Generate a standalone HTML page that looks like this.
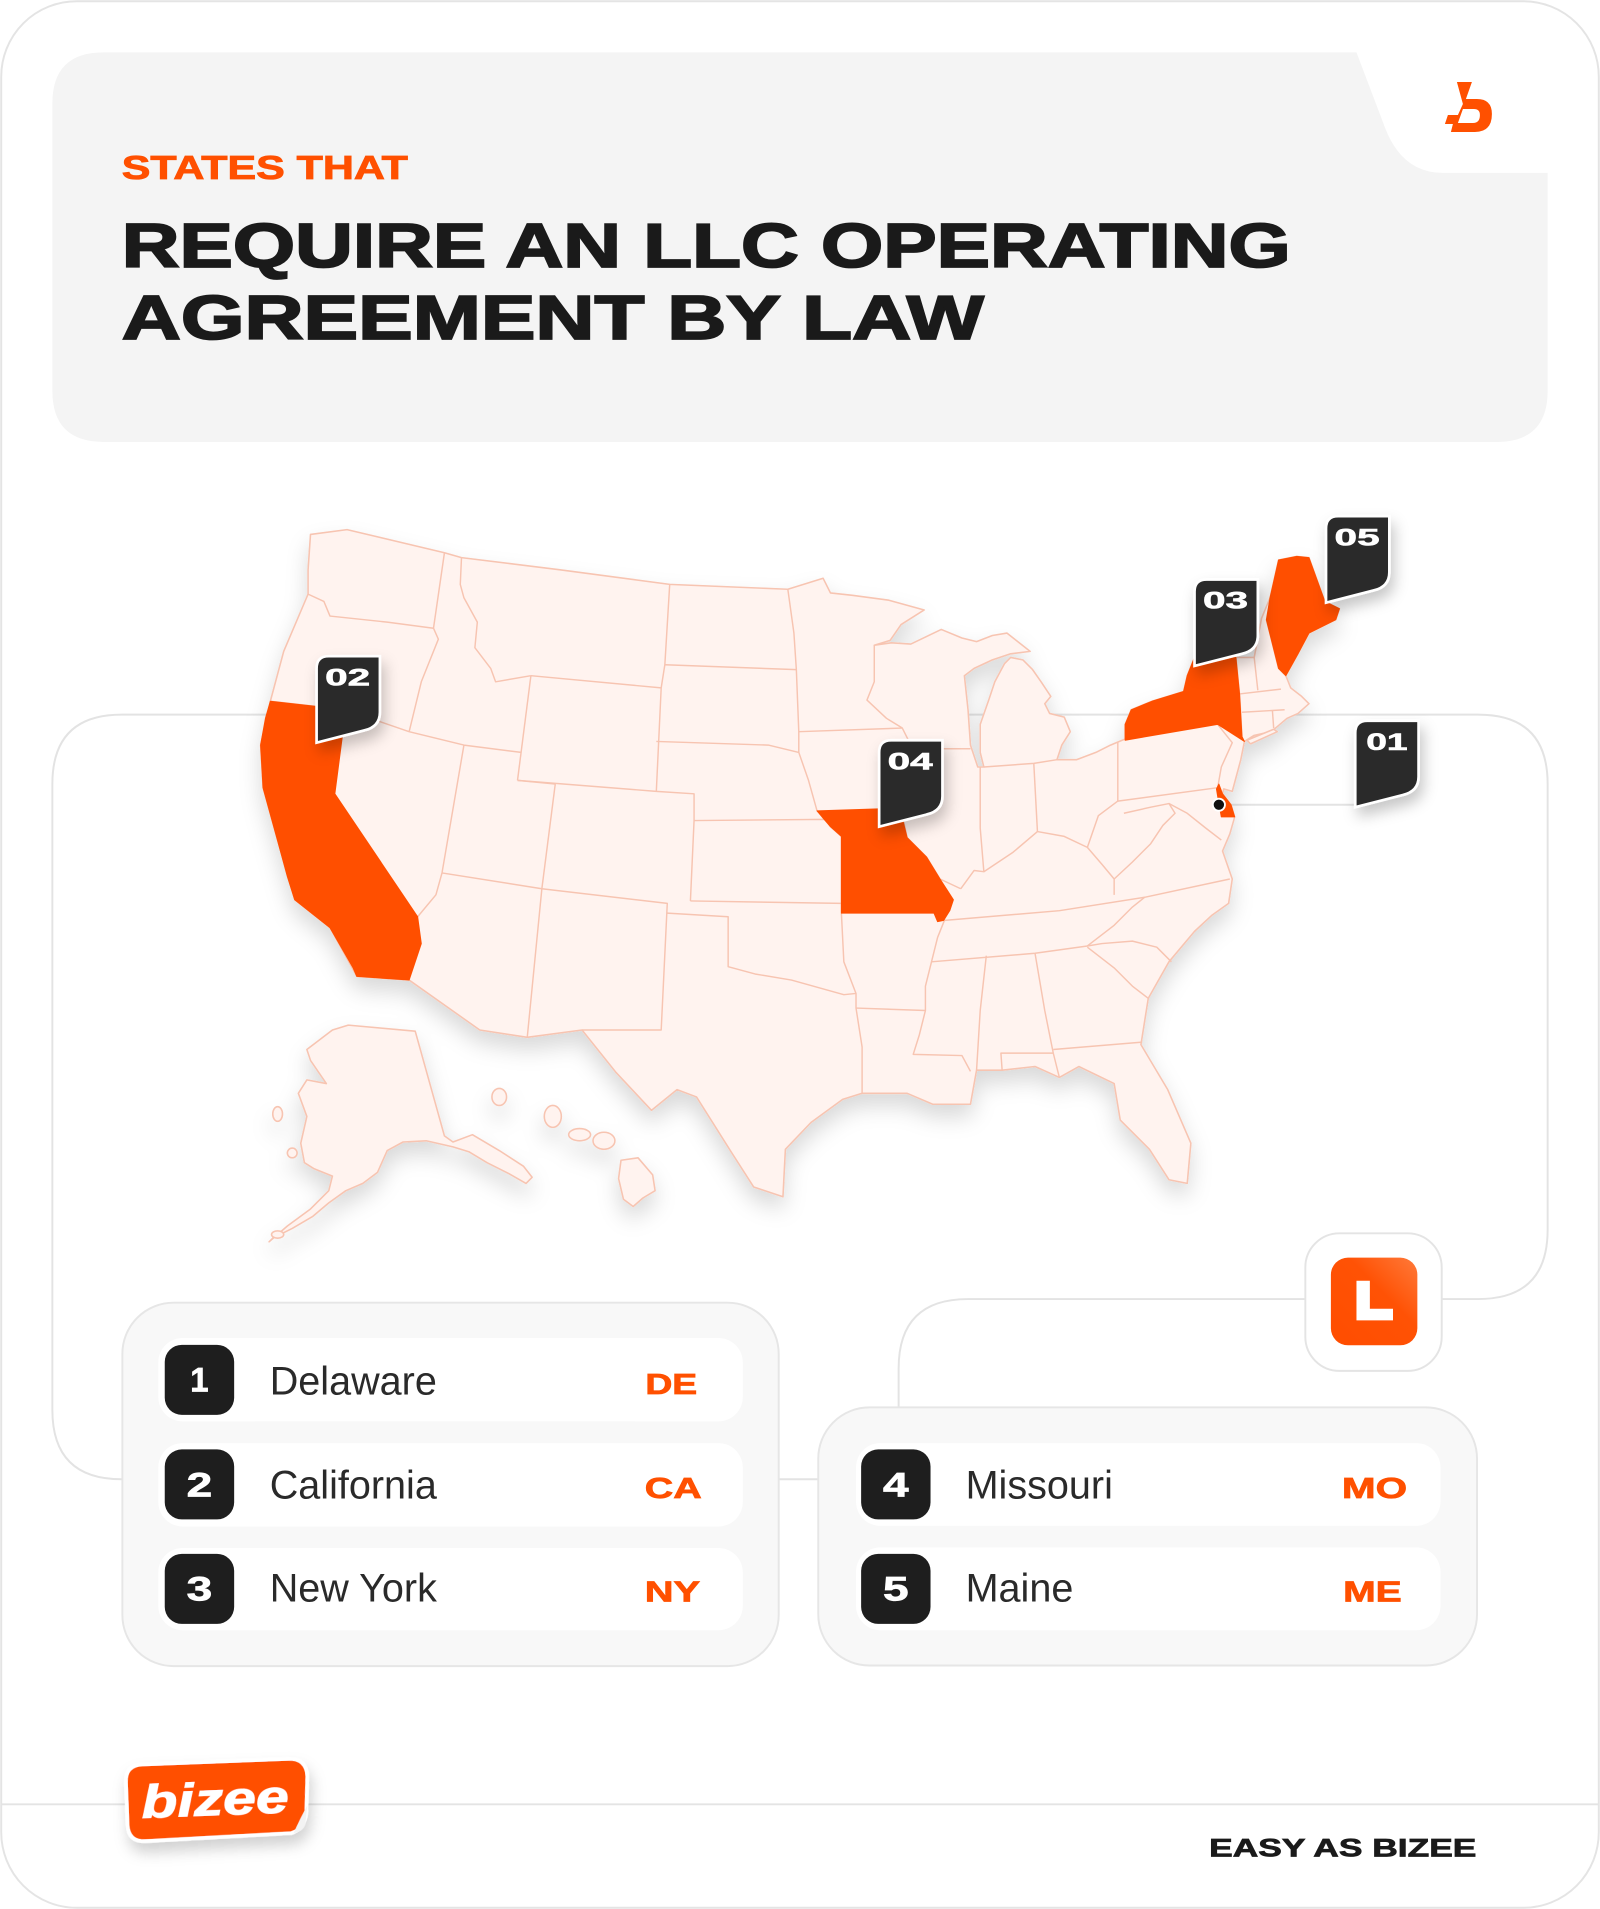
<!DOCTYPE html>
<html>
<head>
<meta charset="utf-8">
<style>
html,body{margin:0;padding:0;background:#ffffff;}
svg{display:block;}
text{font-family:"Liberation Sans",Arial,sans-serif;}
</style>
</head>
<body>
<svg width="1600" height="1909" viewBox="0 0 1314 1568" preserveAspectRatio="none" xmlns="http://www.w3.org/2000/svg">
<defs>
  <filter id="mapShadow" x="-10%" y="-10%" width="120%" height="130%">
    <feDropShadow dx="0" dy="10" stdDeviation="9" flood-color="#000" flood-opacity="0.15"/>
  </filter>
  <filter id="mkShadow" x="-40%" y="-30%" width="180%" height="170%">
    <feDropShadow dx="3" dy="7" stdDeviation="6" flood-color="#000" flood-opacity="0.22"/>
  </filter>
  <filter id="stkShadow" x="-20%" y="-30%" width="140%" height="180%">
    <feDropShadow dx="2" dy="8" stdDeviation="6" flood-color="#000" flood-opacity="0.18"/>
  </filter>
  <linearGradient id="lg" x1="0" y1="1" x2="1" y2="0">
    <stop offset="0" stop-color="#ff4d00"/>
    <stop offset="0.6" stop-color="#ff5205"/>
    <stop offset="1" stop-color="#ff7a3a"/>
  </linearGradient>
</defs>

<!-- outer card -->
<rect x="1" y="1" width="1312" height="1566" rx="62" fill="#ffffff" stroke="#e4e4e4" stroke-width="1.6"/>
<line x1="1" y1="1482" x2="1313" y2="1482" stroke="#e4e4e4" stroke-width="1.6"/>

<!-- header -->
<path d="M43,85 Q43,43 85,43 L1114,43 L1136,101 Q1150,142 1185,142 L1271,142 L1271,321 Q1271,363 1229,363 L85,363 Q43,363 43,321 Z" fill="#f4f4f4"/>
<!-- logo -->
<g transform="scale(0.8212)" fill="#ff5000">
  <path fill-rule="evenodd" d="M1457,82 L1472,82 L1466,99 L1477,99 Q1492,99 1492,114 Q1492,132 1475,132 L1451,132 L1453,124 L1445,124 L1448,115 L1458,115 L1463,104 Z M1463,109 L1458,123 L1473,123 Q1480,123 1480,115 Q1480,109 1474,109 Z"/>
</g>

<text x="100" y="147" font-size="27.5" font-weight="700" fill="#ff5000" stroke="#ff5000" stroke-width="0.7" textLength="235" lengthAdjust="spacingAndGlyphs">STATES THAT</text>
<text x="100" y="219.5" font-size="51" font-weight="700" fill="#1a1a1a" stroke="#1a1a1a" stroke-width="1.5" textLength="960" lengthAdjust="spacingAndGlyphs">REQUIRE AN LLC OPERATING</text>
<text x="100" y="278.5" font-size="51" font-weight="700" fill="#1a1a1a" stroke="#1a1a1a" stroke-width="1.5" textLength="708" lengthAdjust="spacingAndGlyphs">AGREEMENT BY LAW</text>

<!-- tracks -->
<g fill="none" stroke="#e3e3e3" stroke-width="1.6">
  <path d="M1184,1067 L1214,1067 Q1271,1067 1271,1010 L1271,644 Q1271,587 1214,587 L100,587 Q43,587 43,644 L43,1158 Q43,1215 100,1215 L700,1215"/>
  <path d="M1072,1067 L795,1067 Q738,1067 738,1124 L738,1157"/>
  <line x1="1010" y1="661" x2="1113" y2="661"/>
</g>

<!-- MAP -->
<g filter="url(#mapShadow)">
  <g fill="#fff3ef" stroke="#f7c4b1" stroke-width="1.3" stroke-linejoin="round">
    <path d="M255,439 L285,435 L365,454 L379,458 L460,468 L550,480 L647,484 L676,475 L682,487 L700,489 L730,493 L759,501 L740,513 L731,526 L718,530 L732,528 L748,529 L773,517 L790,524 L802,527 L815,522 L827,520 L846,535 L830,537 L815,542 L800,549 L792,555 L795,583 L797,612 L803,630 L808,630 L805,618 L805,595 L812,575 L817,560 L825,545 L830,540 L840,542 L848,550 L855,560 L863,572 L858,578 L862,586 L874,589 L879,601 L872,612 L868,624 L884,624 L900,618 L912,612 L924,607 L924,595 L929,583 L946,576 L972,568 L975,555 L981,540 L990,537 L1015,540 L1030,540 L1036,508 L1043,491 L1050,460 L1065,457 L1075,458 L1088,494 L1100,500 L1097,509 L1075,520 L1066,537 L1056,555 L1060,565 L1069,572 L1075,578 L1066,586 L1057,590 L1044,601 L1030,604 L1022,609 L1019,624 L1012,650 L1005,648 L1004,652 L1011,661 L1014,671 L1010,685 L1004,699 L1012,722 L1009,742 L995,752 L981,765 L960,790 L943,820 L937,858 L959,895 L978,939 L975,972 L960,969 L944,944 L920,920 L915,890 L886,876 L870,885 L850,876 L823,879 L802,879 L797,907 L766,907 L745,898 L708,898 L692,903 L666,922 L645,944 L643,983 L619,975 L601,947 L572,901 L556,895 L535,912 L506,881 L478,846 L433,852 L394,846 L336,805 L293,802 L271,762 L242,739 L227,687 L216,647 L214,612 L222,576 L233,535 L253,488 L253,468 Z"/>
    <path d="M1024,608 L1046,599 L1049,601 L1027,611 Z"/>
    <!-- Alaska -->
    <path d="M273,846 L286,842 L341,847 L365,933 L372,938 L388,932 L410,945 L430,958 L437,967 L432,972 L418,964 L400,955 L385,946 L372,942 L350,937 L331,938 L318,945 L310,963 L298,972 L284,978 L270,988 L257,999 L240,1009 L224,1017 L221,1020 L236,1007 L255,993 L270,978 L273,966 L258,960 L250,955 L247,939 L252,917 L245,898 L252,887 L268,890 L255,871 L252,862 Z"/>
    <ellipse cx="228" cy="915" rx="4" ry="6"/>
    <ellipse cx="240" cy="947" rx="4" ry="4"/>
    <ellipse cx="228" cy="1014" rx="5" ry="3"/>
    <!-- Hawaii -->
    <ellipse cx="410" cy="901" rx="6" ry="7"/>
    <ellipse cx="454" cy="917" rx="7" ry="9"/>
    <ellipse cx="476" cy="932" rx="9" ry="5"/>
    <ellipse cx="496" cy="937" rx="9" ry="7"/>
    <path d="M510,953 L524,951 L536,965 L538,978 L528,984 L520,991 L512,985 L508,968 Z"/>
  </g>
</g>

<!-- state borders -->
<g fill="none" stroke="#f7c4b1" stroke-width="1.2" stroke-linejoin="round">
  <polyline points="253,488 266,494 271,506 318,511 356,516"/>
  <polyline points="365,454 356,516"/>
  <polyline points="356,516 360,525 352,545 346,560 336,601"/>
  <polyline points="222,576 284,583 336,601"/>
  <polyline points="379,458 378,480 381,491 392,511 390,532 403,549 407,560 436,555"/>
  <polyline points="436,555 425,641"/>
  <polyline points="336,601 381,612 428,618"/>
  <polyline points="381,612 363,717 358,735 343,753"/>
  <polyline points="363,717 445,730"/>
  <polyline points="456,644 445,730"/>
  <polyline points="425,641 456,644"/>
  <polyline points="436,555 543,565"/>
  <polyline points="550,480 546,546 543,565 539,650"/>
  <polyline points="425,641 539,650 570,652 570,674 567,740"/>
  <polyline points="445,730 433,852"/>
  <polyline points="445,730 548,742 543,846 478,846"/>
  <polyline points="546,546 654,550"/>
  <polyline points="647,484 652,520 654,550 656,601 656,618"/>
  <polyline points="539,609 631,612 656,618 664,641 671,666 678,673"/>
  <polyline points="656,601 741,598"/>
  <polyline points="718,530 718,560 712,575 728,590 741,598 748,612 760,625 755,640 742,650 740,665 745,688 761,704 772,722 789,730"/>
  <polyline points="570,674 678,673 682,679 691,687 691,750"/>
  <polyline points="567,740 691,742"/>
  <polyline points="548,750 598,753 598,794 620,800 650,805 693,817 703,816"/>
  <polyline points="691,750 693,790 703,816 703,828 708,860 708,898"/>
  <polyline points="703,828 760,830"/>
  <polyline points="776,755 770,770 765,790 760,810 760,830 755,850 750,866 790,867 797,880"/>
  <polyline points="776,756 870,748 940,737 1010,722"/>
  <polyline points="765,790 850,783 893,777 915,760 930,745 940,737"/>
  <polyline points="789,730 800,715 808,716 832,700 852,683 874,687 893,696 905,710 915,722 915,735"/>
  <polyline points="805,630 805,680 808,716"/>
  <polyline points="849,627 852,683"/>
  <polyline points="748,615 797,615"/>
  <polyline points="808,630 849,627 868,624"/>
  <polyline points="918,609 918,658 902,670 893,696"/>
  <polyline points="918,658 1000,647"/>
  <polyline points="923,668 945,663 960,660 965,668 955,678 945,693 930,708 915,722"/>
  <polyline points="960,660 975,668 990,680 1003,690"/>
  <polyline points="893,777 905,775 930,773 950,778 962,790"/>
  <polyline points="893,778 915,795 930,810 943,820"/>
  <polyline points="850,783 858,830 865,865 870,885"/>
  <polyline points="865,862 938,856"/>
  <polyline points="823,879 822,865 865,865"/>
  <polyline points="810,785 805,830 802,879"/>
  <polyline points="1000,595 1012,610 1003,630 1000,647"/>
  <polyline points="1015,540 1018,570 1020,605"/>
  <polyline points="1030,540 1033,567"/>
  <polyline points="1040,509 1050,549 1056,555"/>
  <polyline points="1018,570 1052,566"/>
  <polyline points="1020,585 1055,583"/>
  <polyline points="1045,584 1046,598"/>
</g>

<!-- highlighted states -->
<g fill="#ff4f00" stroke="#ff4f00" stroke-width="0.8" stroke-linejoin="round">
  <path d="M222,576 L284,583 L275,652 L343,753 L346,775 L336,805 L293,802 L290,795 L271,762 L242,739 L236,720 L227,687 L216,647 L214,612 L218,590 Z"/>
  <path d="M671,666 L733,664 L740,668 L745,688 L761,704 L772,722 L783,739 L780,748 L775,756 L770,757 L767,750 L691,750 L691,687 L682,679 L676,672 Z"/>
  <path d="M924,608 L924,595 L929,583 L946,576 L972,568 L975,555 L981,540 L990,537 L1015,540 L1018,570 L1020,605 L1022,609 L1000,595 Z"/>
  <path d="M1043,491 L1050,460 L1065,457 L1075,458 L1088,494 L1100,500 L1097,509 L1075,520 L1066,537 L1056,555 L1050,549 L1040,509 Z"/>
  <path d="M1001,644 L1004,652 L1011,661 L1014,671 L1003,671 L1001,660 L999,648 Z"/>
</g>
<circle cx="1001" cy="661" r="5" fill="#111" stroke="#fff" stroke-width="1.5"/>

<!-- markers -->
<g filter="url(#mkShadow)">
  <g transform="translate(260,539)"><path d="M0,10 Q0,0 10,0 L52,0 L52,46 Q52,58 39,61 L0,71 Z" fill="#2b2b2b" stroke="#fff" stroke-width="2.2"/><text x="7" y="24" font-size="20" font-weight="700" fill="#fff" stroke="#fff" stroke-width="0.5" textLength="37" lengthAdjust="spacingAndGlyphs">02</text></g>
  <g transform="translate(722,608)"><path d="M0,10 Q0,0 10,0 L52,0 L52,46 Q52,58 39,61 L0,71 Z" fill="#2b2b2b" stroke="#fff" stroke-width="2.2"/><text x="7" y="24" font-size="20" font-weight="700" fill="#fff" stroke="#fff" stroke-width="0.5" textLength="37" lengthAdjust="spacingAndGlyphs">04</text></g>
  <g transform="translate(981,476)"><path d="M0,10 Q0,0 10,0 L52,0 L52,46 Q52,58 39,61 L0,71 Z" fill="#2b2b2b" stroke="#fff" stroke-width="2.2"/><text x="7" y="24" font-size="20" font-weight="700" fill="#fff" stroke="#fff" stroke-width="0.5" textLength="37" lengthAdjust="spacingAndGlyphs">03</text></g>
  <g transform="translate(1089,424)"><path d="M0,10 Q0,0 10,0 L52,0 L52,46 Q52,58 39,61 L0,71 Z" fill="#2b2b2b" stroke="#fff" stroke-width="2.2"/><text x="7" y="24" font-size="20" font-weight="700" fill="#fff" stroke="#fff" stroke-width="0.5" textLength="37" lengthAdjust="spacingAndGlyphs">05</text></g>
  <g transform="translate(1113,592)"><path d="M0,10 Q0,0 10,0 L52,0 L52,46 Q52,58 39,61 L0,71 Z" fill="#2b2b2b" stroke="#fff" stroke-width="2.2"/><text x="9" y="24" font-size="20" font-weight="700" fill="#fff" stroke="#fff" stroke-width="0.5" textLength="34" lengthAdjust="spacingAndGlyphs">01</text></g>
</g>

<!-- L icon -->
<rect x="1072" y="1013" width="112" height="113" rx="28" fill="#ffffff" stroke="#e4e4e4" stroke-width="1.6"/>
<rect x="1093" y="1033" width="71" height="72" rx="14" fill="url(#lg)"/>
<path d="M1114,1052 L1125,1052 L1125,1075 L1144,1075 L1144,1084.5 L1114,1084.5 Z" fill="#ffffff"/>

<!-- left list -->
<rect x="100.5" y="1070" width="539" height="298.5" rx="42" fill="#f8f8f8" stroke="#e6e6e6" stroke-width="1.6"/>
<g fill="#ffffff">
  <rect x="130" y="1099" width="480" height="68.5" rx="20"/>
  <rect x="130" y="1185.3" width="480" height="68.5" rx="20"/>
  <rect x="130" y="1271.5" width="480" height="67.5" rx="20"/>
</g>
<g fill="#1e1e1e">
  <rect x="135.3" y="1104.6" width="57" height="57.5" rx="14"/>
  <rect x="135.3" y="1190.5" width="57" height="57.5" rx="14"/>
  <rect x="135.3" y="1276.3" width="57" height="57.5" rx="14"/>
</g>
<g font-size="28" font-weight="700" fill="#ffffff" stroke="#ffffff" stroke-width="0.6" text-anchor="middle">
  <text x="163.8" y="1143" textLength="15" lengthAdjust="spacingAndGlyphs">1</text>
  <text x="163.8" y="1229" textLength="21" lengthAdjust="spacingAndGlyphs">2</text>
  <text x="163.8" y="1314.5" textLength="21" lengthAdjust="spacingAndGlyphs">3</text>
</g>
<g font-size="32.5" fill="#2a2a2a">
  <text x="221.5" y="1145.5">Delaware</text>
  <text x="221.5" y="1230.8">California</text>
  <text x="221.5" y="1315.5">New York</text>
</g>
<g font-size="23.7" font-weight="700" fill="#ff5000" stroke="#ff5000" stroke-width="0.6">
  <text x="530" y="1145" textLength="42.6" lengthAdjust="spacingAndGlyphs">DE</text>
  <text x="529.5" y="1230.5" textLength="46.8" lengthAdjust="spacingAndGlyphs">CA</text>
  <text x="529.5" y="1315.5" textLength="45.5" lengthAdjust="spacingAndGlyphs">NY</text>
</g>

<!-- right list -->
<rect x="672" y="1156" width="541" height="212" rx="42" fill="#f8f8f8" stroke="#e6e6e6" stroke-width="1.6"/>
<g fill="#ffffff">
  <rect x="703" y="1185.3" width="480" height="68" rx="20"/>
  <rect x="703" y="1271" width="480" height="68" rx="20"/>
</g>
<g fill="#1e1e1e">
  <rect x="707.2" y="1190.5" width="57" height="57.5" rx="14"/>
  <rect x="707.2" y="1276.3" width="57" height="57.5" rx="14"/>
</g>
<g font-size="28" font-weight="700" fill="#ffffff" stroke="#ffffff" stroke-width="0.6" text-anchor="middle">
  <text x="735.7" y="1229" textLength="21" lengthAdjust="spacingAndGlyphs">4</text>
  <text x="735.7" y="1314.5" textLength="21" lengthAdjust="spacingAndGlyphs">5</text>
</g>
<g font-size="32.5" fill="#2a2a2a">
  <text x="793" y="1230.8">Missouri</text>
  <text x="793" y="1315.5">Maine</text>
</g>
<g font-size="23.7" font-weight="700" fill="#ff5000" stroke="#ff5000" stroke-width="0.6">
  <text x="1102" y="1230.5" textLength="53.6" lengthAdjust="spacingAndGlyphs">MO</text>
  <text x="1103" y="1315.5" textLength="48.2" lengthAdjust="spacingAndGlyphs">ME</text>
</g>

<!-- bizee sticker -->
<g transform="rotate(-2.2 178 1477)" filter="url(#stkShadow)">
  <path d="M118,1447 L238,1447 Q253,1447 253,1462 L251,1492 Q249,1505 238,1508 L118,1510 Q104,1510 104,1496 L104,1461 Q104,1447 118,1447 Z" fill="#ff5000" stroke="#ffffff" stroke-width="3"/>
  <path d="M240,1508 Q246,1496 252,1486 L250,1500 Q248,1507 240,1508 Z" fill="#f3f3f3"/>
  <text x="116" y="1491" font-size="38" font-weight="700" font-style="italic" fill="#ffffff" stroke="#ffffff" stroke-width="0.8" textLength="121" lengthAdjust="spacingAndGlyphs">bizee</text>
</g>

<text x="993" y="1525" font-size="20.5" font-weight="700" fill="#1a1a1a" stroke="#1a1a1a" stroke-width="0.6" textLength="219.5" lengthAdjust="spacingAndGlyphs">EASY AS BIZEE</text>
</svg>
</body>
</html>
